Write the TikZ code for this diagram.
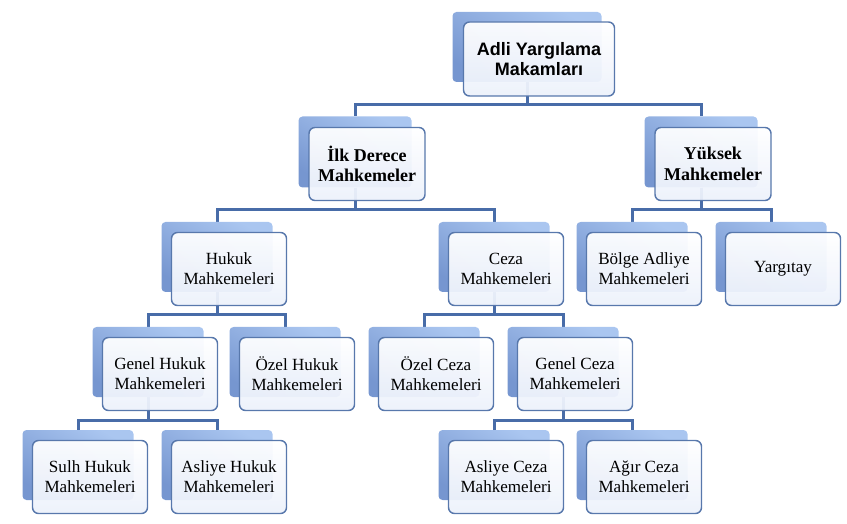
\documentclass[tikz,border=0pt]{standalone}
\usepackage{fontspec}
\setmainfont{Liberation Serif}
\newfontfamily\arialfont{Liberation Sans}
\usetikzlibrary{positioning, backgrounds}
\definecolor{barblue}{RGB}{72,108,168}
\definecolor{backtop}{RGB}{170,198,240}
\definecolor{backbot}{RGB}{118,150,208}
\definecolor{frontline}{RGB}{88,120,172}
\definecolor{frontbot}{RGB}{236,241,251}

\begin{document}
\begin{tikzpicture}[x=0.75pt,y=-0.75pt,
        backbox/.style={rectangle,rounded corners=3pt,minimum width=83.25pt,minimum height=52.5pt,top color=backtop,bottom color=backbot,shading angle=-30},
        frontbox/.style={rectangle,rounded corners=4.5pt,minimum width=86.25pt,minimum height=54.75pt,draw=frontline,line width=1.1pt,top color=white,bottom color=frontbot,fill opacity=0.94,text opacity=1,align=center,inner sep=2pt,font=\fontsize{12.8}{15}\selectfont},
        headbox/.style={frontbox,minimum width=87pt,font=\fontsize{13.5}{15.5}\selectfont\bfseries},
        conn/.style={draw=barblue,line width=2.25pt}]
    \useasboundingbox (0,0) rectangle (847,524);

    % bars
    \coordinate (bar1) at (0,105);
    \coordinate (bar2) at (0,210);
    \coordinate (bar3) at (0,315);
    \coordinate (bar4) at (0,420);

    % top
    \node[backbox,minimum width=111.75pt] (adliB) at (527,47) {};
    \node[frontbox,minimum width=113.25pt,minimum height=55.5pt,font=\arialfont\fontsize{13.5}{15}\selectfont\bfseries] (adli) at ([shift={(12,12)}]adliB.center) {Adli Yargılama\\Makamları};

    % level 1
    \node[backbox,minimum width=84.75pt,minimum height=53.25pt] (ilkB) at (355,152) {};
    \node[headbox] (ilk) at ([shift={(12,12)}]ilkB.center) {İlk Derece\\Mahkemeler};
    \node[backbox,minimum width=84.75pt,minimum height=53.25pt] (yuksekB) at (701,152) {};
    \node[headbox] (yuksek) at ([shift={(12,12)}]yuksekB.center) {Yüksek\\Mahkemeler};

    % level 2
    \node[backbox] (hukukB) at (217,257) {};
    \node[frontbox] (hukuk) at ([shift={(12,12)}]hukukB.center) {Hukuk\\Mahkemeleri};
    \node[backbox] (cezaB) at (494,257) {};
    \node[frontbox] (ceza) at ([shift={(12,12)}]cezaB.center) {Ceza\\Mahkemeleri};
    \node[backbox] (bolgeB) at (632,257) {};
    \node[frontbox] (bolge) at ([shift={(12,12)}]bolgeB.center) {Bölge Adliye\\Mahkemeleri};
    \node[backbox] (yargitayB) at (771,257) {};
    \node[frontbox] (yargitay) at ([shift={(12,12)}]yargitayB.center) {Yargıtay};

    % level 3
    \node[backbox] (genelHB) at (148,362) {};
    \node[frontbox] (genelH) at ([shift={(12,12)}]genelHB.center) {Genel Hukuk\\Mahkemeleri};
    \node[backbox] (ozelHB) at (285,362) {};
    \node[frontbox] (ozelH) at ([shift={(12,12)}]ozelHB.center) {Özel Hukuk\\Mahkemeleri};
    \node[backbox] (ozelCB) at (424,362) {};
    \node[frontbox] (ozelC) at ([shift={(12,12)}]ozelCB.center) {Özel Ceza\\Mahkemeleri};
    \node[backbox] (genelCB) at (563,362) {};
    \node[frontbox] (genelC) at ([shift={(12,12)}]genelCB.center) {Genel Ceza\\Mahkemeleri};

    % level 4
    \node[backbox] (sulhB) at (78,465) {};
    \node[frontbox] (sulh) at ([shift={(12,12)}]sulhB.center) {Sulh Hukuk\\Mahkemeleri};
    \node[backbox] (asliyeHB) at (217,465) {};
    \node[frontbox] (asliyeH) at ([shift={(12,12)}]asliyeHB.center) {Asliye Hukuk\\Mahkemeleri};
    \node[backbox] (asliyeCB) at (494,465) {};
    \node[frontbox] (asliyeC) at ([shift={(12,12)}]asliyeCB.center) {Asliye Ceza\\Mahkemeleri};
    \node[backbox] (agirB) at (632,465) {};
    \node[frontbox] (agir) at ([shift={(12,12)}]agirB.center) {Ağır Ceza\\Mahkemeleri};

    % connectors
    \begin{scope}[on background layer]
        \draw[conn] (adliB.south) |- (ilkB.north |- bar1) -- (ilkB.north);
        \draw[conn] (adliB.south) |- (yuksekB.north |- bar1) -- (yuksekB.north);
        \draw[conn] (ilkB.south) |- (hukukB.north |- bar2) -- (hukukB.north);
        \draw[conn] (ilkB.south) |- (cezaB.north |- bar2) -- (cezaB.north);
        \draw[conn] (yuksekB.south) |- (bolgeB.north |- bar2) -- (bolgeB.north);
        \draw[conn] (yuksekB.south) |- (yargitayB.north |- bar2) -- (yargitayB.north);
        \draw[conn] (hukukB.south) |- (genelHB.north |- bar3) -- (genelHB.north);
        \draw[conn] (hukukB.south) |- (ozelHB.north |- bar3) -- (ozelHB.north);
        \draw[conn] (cezaB.south) |- (ozelCB.north |- bar3) -- (ozelCB.north);
        \draw[conn] (cezaB.south) |- (genelCB.north |- bar3) -- (genelCB.north);
        \draw[conn] (genelHB.south) |- (sulhB.north |- bar4) -- (sulhB.north);
        \draw[conn] (genelHB.south) |- (asliyeHB.north |- bar4) -- (asliyeHB.north);
        \draw[conn] (genelCB.south) |- (asliyeCB.north |- bar4) -- (asliyeCB.north);
        \draw[conn] (genelCB.south) |- (agirB.north |- bar4) -- (agirB.north);
    \end{scope}
\end{tikzpicture}
\end{document}
